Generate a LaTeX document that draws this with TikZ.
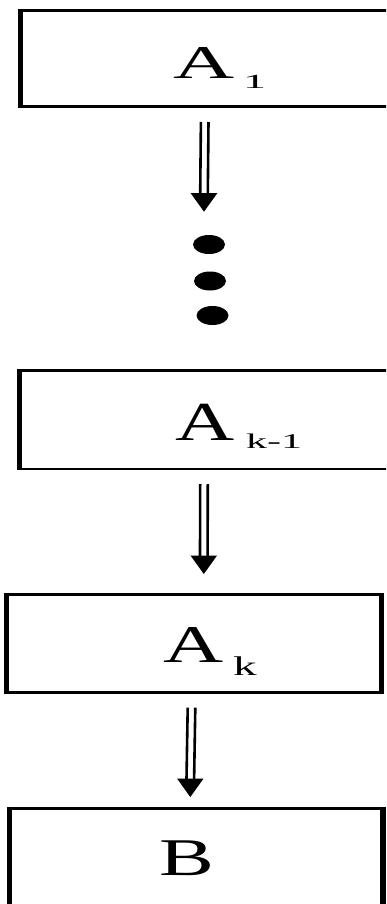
\documentclass[tikz,border=0pt]{standalone}
\usepackage{fontspec}
\usepackage{graphicx}
\setmainfont{Liberation Serif}
\usetikzlibrary{shapes.geometric}

\tikzset{
  stage/.style={draw, rectangle, line width=2.8pt, inner sep=0pt, fill=white},
  vside/.style={line width=5pt},
  lbl/.style={inner sep=0pt, anchor=base west},
  dot/.style={ellipse, fill=black, inner sep=0pt, minimum width=32pt, minimum height=19pt},
  shaft/.style={line width=2.6pt},
}

% double-shafted arrow with a solid triangular head
\newcommand{\DoubleArrow}[2]{%
  \draw[shaft] ([xshift=-3.8pt]#1) -- ([xshift=-3.8pt,yshift=18pt]#2);
  \draw[shaft] ([xshift=3.8pt]#1) -- ([xshift=3.8pt,yshift=18pt]#2);
  \fill ([xshift=-13.3pt,yshift=18.5pt]#2) -- ([xshift=13.3pt,yshift=18.5pt]#2) -- (#2) -- cycle;
}

% sized, horizontally widened text
\newcommand{\Wide}[3]{\scalebox{#1}[1]{\fontsize{#2}{#2}\selectfont #3}}

\begin{document}
\begin{tikzpicture}[x=1pt, y=-1pt]
  \useasboundingbox (0,0) rectangle (386,904);
  \clip (0,0) rectangle (386,904);

  % stages
  \node[stage, minimum width=368.5pt, minimum height=96.4pt] (box1) at (205.75,58.5) {};
  \node[stage, minimum width=369.2pt, minimum height=98.2pt] (box2) at (205.4,419.9) {};
  \node[stage, minimum width=372.5pt, minimum height=98pt] (box3) at (193.75,643.7) {};
  \node[stage, minimum width=370.9pt, minimum height=101.3pt] (box4) at (196.25,859.35) {};
  \foreach \b in {box1,box2,box3,box4}
    \draw[vside] (\b.north west) -- (\b.south west);
  \foreach \b in {box3,box4}
    \draw[vside] (\b.north east) -- (\b.south east);

  % labels
  \node[lbl] (A1) at (173,79) {\Wide{1.8}{47}{A}};
  \node[lbl] (s1) at (243,88.5) {\Wide{2.3}{20}{1}};
  \node[lbl] (A2) at (175,440) {\Wide{1.49}{55}{A}};
  \node[lbl] (s2) at (246,448.5) {\Wide{2.0}{21}{k-1}};
  \node[lbl] (A3) at (163,662) {\Wide{1.57}{53}{A}};
  \node[lbl] (s3) at (233,675) {\Wide{1.75}{27}{k}};
  \node[lbl] (Bt) at (159,875) {\Wide{1.55}{53}{B}};

  % ellipsis between the first stage and stage k-1
  \node[dot] (d1) at (209,244.5) {};
  \node[dot] (d2) at (210,281) {};
  \node[dot] (d3) at (212.5,315.5) {};

  % arrow end points
  \coordinate (a1s) at (204.7,122);
  \coordinate (a1e) at (204,211.7);
  \coordinate (a2s) at (204,484);
  \coordinate (a2e) at (203.8,574);
  \coordinate (a3s) at (191.5,707.7);
  \coordinate (a3e) at (190.3,797);

  \DoubleArrow{a1s}{a1e}
  \DoubleArrow{a2s}{a2e}
  \DoubleArrow{a3s}{a3e}
\end{tikzpicture}
\end{document}
